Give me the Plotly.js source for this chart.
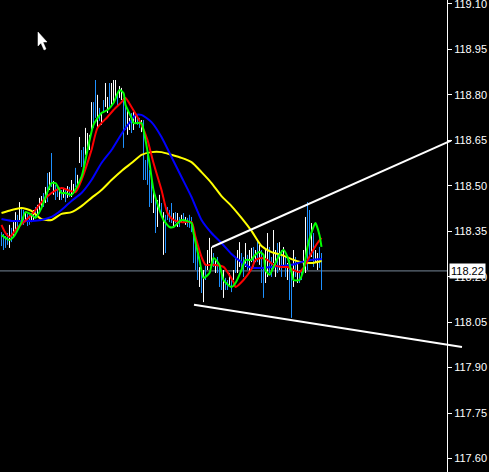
<!DOCTYPE html>
<html>
<head>
<meta charset="utf-8">
<script src="https://cdn.plot.ly/plotly-3.0.1.min.js"></script>
<style>html,body{margin:0;padding:0;background:#000;}#chart{width:489px;height:472px;}</style>
</head>
<body>
<div id="chart"></div>
<script>
// ---- bar data (index, high, low, colour W=white / B=blue) ----
const highs = [
118.347,118.341,118.334,118.344,118.371,118.361,118.380,118.413,118.404,118.446,
118.427,118.420,118.413,118.407,118.404,118.410,118.420,118.430,118.437,118.460,
118.466,118.476,118.496,118.542,118.545,118.608,118.516,118.503,118.496,118.493,
118.486,118.493,118.486,118.499,118.496,
118.519,118.506,118.559,118.536,118.661,118.618,118.628,118.691,118.674,118.668,
118.776,118.776,118.849,118.800,118.757,118.740,118.783,118.839,118.793,118.839,
118.839,118.849,118.849,118.806,118.829,118.823,118.790,118.767,118.750,118.724,
118.740,118.743,118.740,118.734,118.724,118.717,118.717,118.585,118.608,118.552,
118.519,118.486,118.470,118.453,118.470,118.443,118.413,118.404,118.430,118.420,
118.443,118.410,118.413,118.410,118.397,118.404,118.410,118.397,118.394,118.404,
118.397,118.354,118.331,118.278,118.232,118.212,118.222,118.239,118.288,118.328,
118.298,118.278,118.255,118.265,118.232,118.212,118.222,118.196,118.189,118.212,
118.199,118.222,118.265,118.288,118.314,118.278,118.265,118.311,118.272,118.288,
118.295,118.298,118.288,
118.321,118.305,118.288,118.232,118.288,118.344,118.298,118.265,118.354,118.288,
118.311,118.314,118.288,118.298,118.265,118.245,118.255,118.222,118.288,118.265,
118.245,118.222,118.222,118.288,118.397,118.446,118.420,118.377,118.344,118.288,
118.278,118.298,118.278
];
const lows = [
118.301,118.288,118.295,118.305,118.295,118.314,118.331,118.354,118.361,118.387,
118.380,118.371,118.380,118.367,118.371,118.380,118.387,118.394,118.407,118.410,
118.427,118.430,118.443,118.446,118.486,118.496,118.470,118.453,118.463,118.453,
118.453,118.460,118.446,118.460,118.463,
118.463,118.473,118.496,118.493,118.575,118.562,118.562,118.602,118.618,118.618,
118.674,118.691,118.724,118.691,118.714,118.701,118.740,118.760,118.740,118.757,
118.767,118.773,118.783,118.760,118.790,118.783,118.625,118.684,118.668,118.684,
118.674,118.684,118.707,118.701,118.691,118.677,118.519,118.519,118.503,118.430,
118.443,118.410,118.344,118.364,118.420,118.404,118.272,118.278,118.387,118.380,
118.377,118.364,118.377,118.364,118.364,118.377,118.377,118.371,118.364,118.361,
118.347,118.245,118.222,118.189,118.166,118.146,118.116,118.189,118.222,118.245,
118.245,118.232,118.212,118.212,118.166,118.156,118.130,118.156,118.156,118.166,
118.149,118.189,118.212,118.212,118.232,118.222,118.199,118.232,118.222,118.212,
118.248,118.232,118.248,
118.248,118.239,118.179,118.130,118.179,118.199,118.212,118.199,118.245,118.199,
118.212,118.222,118.199,118.232,118.199,118.189,118.123,118.064,118.166,118.199,
118.179,118.179,118.189,118.222,118.212,118.222,118.265,118.265,118.232,118.245,
118.222,118.229,118.156
];
const barColours = (
"BBBBWBWWBW"+"BBWBBWWBWW"+"WBWBWBWBBW"+"BWBWB"+
"WWBWWBBWWW"+"WBBWBWBWWB"+"WWWBWWBBWW"+
"BWWBBWBBBB"+"BWBWWBWBBB"+"BWBWBWBWBB"+
"BBBBWBWBWW"+"WBWBBBWBBW"+"BWBWWBBWBW"+"WBW"+
"BWBBWWBBWW"+"BWBWBWBBWB"+"WBBWWBBWBW"+"WBB").split("");

// ---- moving averages (bar index, price) ----
const yellowIdx = [0,5,10,15,20,25,30,35,40,45,50,55,60,65,70,75,80,85,90,95,100,105,110,115,120,125,130,135,140,145,150,155,160];
const yellowVal = [118.410,118.420,118.427,118.417,118.390,118.387,118.407,118.413,118.433,118.460,
118.486,118.519,118.549,118.575,118.602,118.611,118.611,118.602,118.592,118.578,
118.545,118.509,118.466,118.433,118.394,118.351,118.301,118.281,118.272,118.258,
118.248,118.245,118.252];

const blueIdx = [0,5,10,15,20,25,30,35,40,45,50,55,60,65,67,70,75,80,85,90,95,100,105,110,115,120,125,130,135,140,145,150,155,160];
const blueVal = [118.390,118.384,118.384,118.384,118.387,118.397,118.420,118.450,118.476,118.519,
118.575,118.618,118.671,118.717,118.734,118.734,118.710,118.661,118.595,118.529,
118.463,118.387,118.344,118.311,118.275,118.248,118.229,118.229,118.232,118.235,
118.239,118.248,118.255,118.258];

const redIdx = [0,2,4,8,15,20,25,30,33,37,40,45,48,53,56,60,62,65,70,73,76,80,83,86,90,95,97,100,102,106,111,113,116,117,121,125,127,130,133,136,140,143,146,149,151,155,158,160];
const redVal = [118.371,118.344,118.331,118.361,118.404,118.446,118.476,118.493,118.486,118.479,
118.519,118.618,118.691,118.727,118.750,118.776,118.790,118.760,118.701,118.651,
118.575,118.486,118.410,118.387,118.380,118.380,118.331,118.265,118.239,118.239,
118.232,118.215,118.182,118.166,118.189,118.225,118.255,118.262,118.255,118.239,
118.232,118.232,118.222,118.215,118.229,118.278,118.311,118.328];

const greenIdx = [0,2,4,6,10,12,15,17,20,22,25,27,30,32,35,40,43,46,50,53,56,59,61,62,65,66,70,71,74,76,79,81,84,86,90,95,96,99,101,104,106,109,111,115,117,120,122,125,126,129,131,132,134,136,139,141,143,145,146,149,151,153,156,157,159,160];
const greenVal = [118.337,118.328,118.321,118.331,118.380,118.413,118.404,118.394,118.427,118.463,
118.509,118.509,118.476,118.476,118.470,118.529,118.618,118.701,118.740,118.750,
118.773,118.816,118.806,118.767,118.724,118.707,118.707,118.684,118.575,118.486,
118.420,118.387,118.364,118.364,118.387,118.377,118.344,118.255,118.196,118.212,
118.262,118.239,118.189,118.166,118.179,118.222,118.255,118.255,118.265,118.281,
118.272,118.222,118.206,118.232,118.272,118.288,118.265,118.215,118.189,118.189,
118.222,118.298,118.364,118.377,118.337,118.298];

// ---- trend lines (bar index, price) ----
const upperTrendIdx = [105.25, 224.75];
const upperTrendVal = [118.298, 118.649];
const lowerTrendIdx = [96.25, 230.25];
const lowerTrendVal = [118.107, 117.968];

// ---- axis / price label ----
const tickVals = [117.60,117.75,117.90,118.05,118.20,118.35,118.50,118.65,118.80,118.95,119.10];
const lastPrice = 118.219;

// ---- build traces ----
const W = 489, H = 472, axisPx = 447;
const font = "Liberation Sans Narrow, Arial Narrow, Liberation Sans, Arial, sans-serif";
function barTrace(code, colour) {
  const x = [], y = [];
  highs.forEach((h, i) => {
    if (barColours[i] === code) { x.push(i, i, null); y.push(lows[i], h, null); }
  });
  return {type:'scatter', mode:'lines', x, y, line:{color:colour, width:1}, hoverinfo:'skip', showlegend:false, connectgaps:false};
}
function maTrace(xs, ys, colour) {
  return {type:'scatter', mode:'lines', x:xs, y:ys, line:{color:colour, width:2, shape:'spline', smoothing:0.6}, hoverinfo:'skip', showlegend:false};
}
function trendTrace(xs, ys) {
  return {type:'scatter', mode:'lines', x:xs, y:ys, xaxis:'x2', yaxis:'y', line:{color:'#ffffff', width:2}, hoverinfo:'skip', showlegend:false};
}
const traces = [
  barTrace('W', '#ffffff'),
  barTrace('B', '#1e90ff'),
  maTrace(yellowIdx, yellowVal, '#ffff00'),
  maTrace(blueIdx, blueVal, '#0000ff'),
  maTrace(redIdx, redVal, '#ff0000'),
  maTrace(greenIdx, greenVal, '#00ff00'),
  trendTrace(upperTrendIdx, upperTrendVal),
  trendTrace(lowerTrendIdx, lowerTrendVal)
];

const x0 = -0.75, pxPerBar = 2;
const yMin = 119.113 - H * 0.0033, yMax = 119.113;

// mouse cursor (decoration, pixel outline)
const cur = [[38,32],[38,46],[41,43],[44,50],[46,49],[43,42],[47,42]];
const curPath = 'M' + cur.map(p => (p[0]/W).toFixed(4) + ',' + (1 - p[1]/H).toFixed(4)).join(' L') + ' Z';

const layout = {
  width: W, height: H,
  margin: {l:0, r:0, t:0, b:0, pad:0},
  paper_bgcolor: '#000000',
  plot_bgcolor: 'rgba(0,0,0,0)',
  showlegend: false,
  xaxis: {domain:[0, axisPx/W], range:[x0, x0 + axisPx/pxPerBar], visible:false, fixedrange:true},
  xaxis2: {domain:[0, 1], range:[x0, x0 + W/pxPerBar], visible:false, anchor:'y', fixedrange:true},
  yaxis: {
    domain:[0,1], range:[yMin, yMax], side:'right', anchor:'x',
    showgrid:false, zeroline:false, showline:true, linecolor:'#ffffff', linewidth:1,
    ticks:'outside', ticklen:4, tickcolor:'#ffffff', tickwidth:1,
    tickmode:'array', tickvals:tickVals, ticktext:tickVals.map(v => v.toFixed(2)),
    tickfont:{family:font, size:11, color:'#ffffff'}, ticklabelstandoff:0,
    ticklabeloverflow:'allow'
  },
  shapes: [
    {type:'line', xref:'x domain', x0:0, x1:1, yref:'y', y0:lastPrice, y1:lastPrice, line:{color:'#778899', width:1}, layer:'below'},
    {type:'path', xref:'paper', yref:'paper', path:curPath, fillcolor:'#ffffff', line:{color:'#ffffff', width:0.5}}
  ],
  annotations: [
    {xref:'paper', x:(axisPx+2)/W, xanchor:'left', yref:'y', y:lastPrice, yanchor:'middle',
     text:lastPrice.toFixed(2), showarrow:false, bgcolor:'#ffffff', borderpad:1,
     font:{family:font, size:11, color:'#000000'}}
  ]
};
Plotly.newPlot('chart', traces, layout, {staticPlot:true, displayModeBar:false});
</script>
</body>
</html>
